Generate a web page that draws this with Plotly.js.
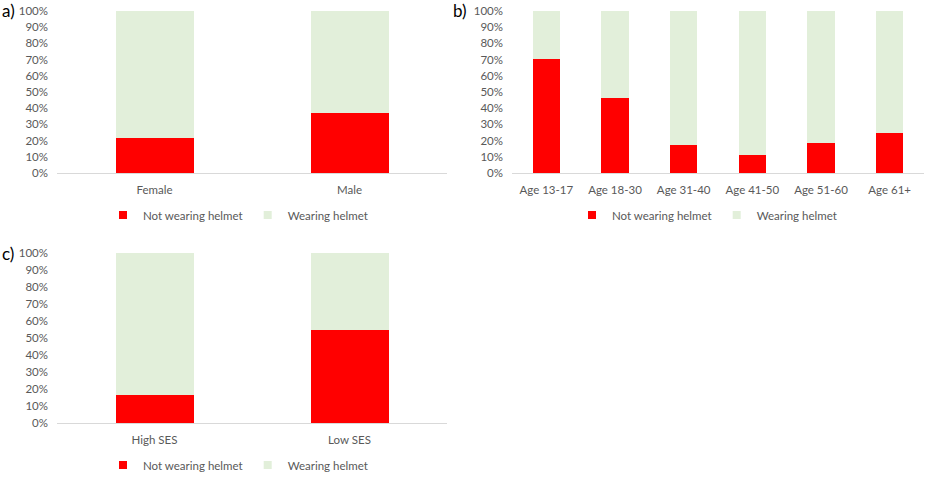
<!DOCTYPE html>
<html>
<head>
<meta charset="utf-8">
<script src="https://cdn.plot.ly/plotly-3.0.1.min.js"></script>
<style>html,body{margin:0;padding:0;background:#fff}#chart{width:925px;height:493px}</style>
</head>
<body>
<div id="chart"></div>
<script>
// Panel a: gender
const genderCats = ["Female", "Male"];
const genderNot = [21.8, 37.2];
const genderWear = [78.2, 62.8];
// Panel b: age
const ageCats = ["Age 13-17", "Age 18-30", "Age 31-40", "Age 41-50", "Age 51-60", "Age 61+"];
const ageNot = [70.4, 46.1, 17.3, 11.1, 18.3, 24.7];
const ageWear = [29.6, 53.9, 82.7, 88.9, 81.7, 75.3];
// Panel c: SES
const sesCats = ["High SES", "Low SES"];
const sesNot = [16.7, 54.8];
const sesWear = [83.3, 45.2];
const seriesNames = ["Not wearing helmet", "Wearing helmet"];
const panelLabels = ["a)", "b)", "c)"];

const RED = "#FF0000", GREEN = "#E2EFDA";
const W = 925, H = 493;
const px = v => v / W;
const py = v => 1 - v / H;

function pair(cats, notv, wear, xa, ya, leg) {
  return [
    {type: "bar", x: cats, y: notv, name: seriesNames[0], marker: {color: RED}, xaxis: xa, yaxis: ya, showlegend: false},
    {type: "bar", x: cats, y: wear, name: seriesNames[1], marker: {color: GREEN}, xaxis: xa, yaxis: ya, showlegend: false},
    // legend keys (small squares)
    {type: "scatter", mode: "markers", x: [null], y: [null], name: seriesNames[0], marker: {color: RED, symbol: "square", size: 8}, xaxis: xa, yaxis: ya, legend: leg, showlegend: true},
    {type: "scatter", mode: "markers", x: [null], y: [null], name: seriesNames[1], marker: {color: GREEN, symbol: "square", size: 8}, xaxis: xa, yaxis: ya, legend: leg, showlegend: true}
  ];
}
const data = [].concat(
  pair(genderCats, genderNot, genderWear, "x", "y", "legend"),
  pair(ageCats, ageNot, ageWear, "x2", "y2", "legend2"),
  pair(sesCats, sesNot, sesWear, "x3", "y3", "legend3")
);

const FAM = "Lato, 'Open Sans', sans-serif";
const tickFont = {family: FAM, size: 11.5, color: "#595959"};
function xax(d) {
  return {domain: d, type: "category", showline: true, linecolor: "#D9D9D9", linewidth: 1,
    ticks: "", showgrid: false, zeroline: false, tickfont: tickFont, fixedrange: true, ticklabelstandoff: 6};
}
function yax(d, anchor) {
  return {domain: d, anchor: anchor, range: [0, 100], dtick: 10, tick0: 0, ticksuffix: "%",
    showgrid: false, zeroline: false, showline: false, ticks: "", tickfont: tickFont, fixedrange: true, ticklabelstandoff: 8};
}
const legFont = {family: FAM, size: 11.5, color: "#595959"};
function leg(x, y) {
  return {orientation: "h", x: x, y: y, xanchor: "center", yanchor: "middle", font: legFont,
    bgcolor: "rgba(0,0,0,0)", itemwidth: 30, traceorder: "normal"};
}

const layout = {
  width: W, height: H,
  margin: {l: 0, r: 0, t: 0, b: 0},
  paper_bgcolor: "#fff", plot_bgcolor: "#fff",
  barmode: "stack", bargap: 0.6,
  showlegend: true,
  xaxis: Object.assign(xax([px(57), px(447)]), {anchor: "y"}),
  yaxis: yax([py(173), py(11)], "x"),
  xaxis2: Object.assign(xax([px(512), px(924)]), {anchor: "y2"}),
  yaxis2: yax([py(173), py(11)], "x2"),
  xaxis3: Object.assign(xax([px(57), px(447)]), {anchor: "y3"}),
  yaxis3: yax([py(423), py(253)], "x3"),
  legend: leg(px(238), py(215)),
  legend2: leg(px(707), py(215)),
  legend3: leg(px(238), py(465)),
  annotations: [
    {text: panelLabels[0], x: px(0), y: py(11), xref: "paper", yref: "paper", xanchor: "left", yanchor: "middle", showarrow: false, font: {family: FAM, size: 17, color: "#000"}},
    {text: panelLabels[1], x: px(451), y: py(11), xref: "paper", yref: "paper", xanchor: "left", yanchor: "middle", showarrow: false, font: {family: FAM, size: 17, color: "#000"}},
    {text: panelLabels[2], x: px(0), y: py(253), xref: "paper", yref: "paper", xanchor: "left", yanchor: "middle", showarrow: false, font: {family: FAM, size: 17, color: "#000"}}
  ]
};

Plotly.newPlot("chart", data, layout, {displayModeBar: false, staticPlot: true});
</script>
</body>
</html>
